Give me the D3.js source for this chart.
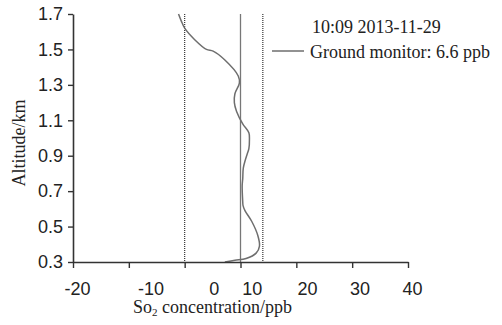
<!DOCTYPE html>
<html>
<head>
<meta charset="utf-8">
<script src="https://cdn.jsdelivr.net/npm/d3@7"></script>
<style>
  body { margin: 0; background: #fff; }
  svg { display: block; font-family: "Liberation Serif", "Times New Roman", serif; }
  text { fill: #222; }
</style>
</head>
<body>
<div id="chart"></div>
<script>
// SO2 profile (ppb) by altitude (km)
const altitude = [0.30, 0.31, 0.32, 0.35, 0.39, 0.45, 0.53, 0.59, 0.62, 0.64, 0.73, 0.77, 0.83, 0.88, 0.91, 0.94, 0.99, 1.03, 1.08, 1.15, 1.20, 1.25, 1.31, 1.35, 1.44, 1.49, 1.50, 1.555, 1.62, 1.66, 1.70];
const so2 = [7.2, 9.0, 11.0, 12.8, 13.4, 13.1, 12.0, 10.8, 10.45, 10.4, 10.3, 10.4, 10.5, 10.9, 11.2, 11.5, 11.6, 11.5, 10.4, 9.3, 8.9, 9.0, 9.8, 9.6, 7.2, 5.1, 3.9, 1.8, 0.0, -0.6, -1.1];

// reference lines: dotted, solid, dotted
const refValues = [0, 10, 14];
const refStyles = ['dotted', 'solid', 'dotted'];

const xTicks = [-20, -10, 0, 10, 20, 30, 40];
// where each x tick label sits in the picture (data units)
const xTickLabelAt = [-19.3, -6.1, 5.2, 12.0, 21.9, 31.3, 40.7];
const yTicks = [0.3, 0.5, 0.7, 0.9, 1.1, 1.3, 1.5, 1.7];

const legendTitle = '10:09 2013-11-29';
const legendLabel = 'Ground monitor: 6.6 ppb';

const margin = { top: 14, right: 94, bottom: 63, left: 73 },
      width = 502 - margin.left - margin.right,
      height = 325 - margin.top - margin.bottom;

const svg = d3.select('#chart').append('svg')
    .attr('width', 502)
    .attr('height', 325);

const g = svg.append('g')
    .attr('transform', 'translate(' + margin.left + ',' + margin.top + ')');

const x = d3.scaleLinear().domain([-20, 40]).range([0, width]);
const y = d3.scaleLinear().domain([0.3, 1.7]).range([height, 0]);

// reference lines
g.selectAll('.ref')
    .data(refValues)
    .enter().append('line')
    .attr('class', 'ref')
    .attr('x1', d => x(d)).attr('x2', d => x(d))
    .attr('y1', 0).attr('y2', height)
    .attr('stroke', (d, i) => refStyles[i] === 'solid' ? '#777' : '#333')
    .attr('stroke-width', (d, i) => refStyles[i] === 'solid' ? 1.3 : 1.2)
    .attr('stroke-dasharray', (d, i) => refStyles[i] === 'solid' ? null : '1,1');

// profile line
const profile = altitude.map((a, i) => ({ alt: a, v: so2[i] }));
const line = d3.line()
    .x(d => x(d.v))
    .y(d => y(d.alt))
    .curve(d3.curveCatmullRom.alpha(0.5));

g.append('path')
    .datum(profile)
    .attr('fill', 'none')
    .attr('stroke', '#6e6e6e')
    .attr('stroke-width', 1.5)
    .attr('d', line);

// x axis (plain hyphen for negatives, like the original)
const xAxis = g.append('g')
    .attr('transform', 'translate(0,' + height + ')')
    .call(d3.axisBottom(x).tickValues(xTicks).tickSize(6).tickSizeOuter(0).tickFormat(d => String(d)));
xAxis.select('.domain').attr('stroke', '#333').attr('stroke-width', 1.6);
xAxis.selectAll('.tick line').attr('stroke', '#333').attr('stroke-width', 1.4);
xAxis.selectAll('.tick text')
    .attr('font-size', 18)
    .attr('fill', '#222')
    .attr('y', 20)
    .attr('dy', '0.71em')
    .attr('x', (d, i) => x(xTickLabelAt[i]) - x(d));

// y axis
const yAxis = g.append('g')
    .call(d3.axisLeft(y).tickValues(yTicks).tickSize(5).tickSizeOuter(0).tickFormat(d3.format('.1f')));
yAxis.select('.domain').attr('stroke', '#333').attr('stroke-width', 1.6);
yAxis.selectAll('.tick line').attr('stroke', '#333').attr('stroke-width', 1.4);
yAxis.selectAll('.tick text')
    .attr('font-size', 18)
    .attr('fill', '#222')
    .attr('x', -10);

// axis titles
const xt = svg.append('text')
    .attr('x', 133)
    .attr('y', 313)
    .attr('font-size', 18);
xt.append('tspan').text('So');
xt.append('tspan').attr('font-size', 11).attr('dy', 3).text('2');
xt.append('tspan').attr('dy', -3).text(' concentration/ppb');

svg.append('text')
    .attr('transform', 'translate(25,' + (margin.top + height / 2 + 5) + ') rotate(-90)')
    .attr('text-anchor', 'middle')
    .attr('font-size', 18)
    .text('Altitude/km');

// legend
svg.append('text')
    .attr('x', 312)
    .attr('y', 33)
    .attr('font-size', 18)
    .text(legendTitle);
svg.append('line')
    .attr('x1', 272).attr('x2', 304)
    .attr('y1', 51).attr('y2', 51)
    .attr('stroke', '#6e6e6e')
    .attr('stroke-width', 1.5);
svg.append('text')
    .attr('x', 310)
    .attr('y', 58)
    .attr('font-size', 18)
    .text(legendLabel);
</script>
</body>
</html>
